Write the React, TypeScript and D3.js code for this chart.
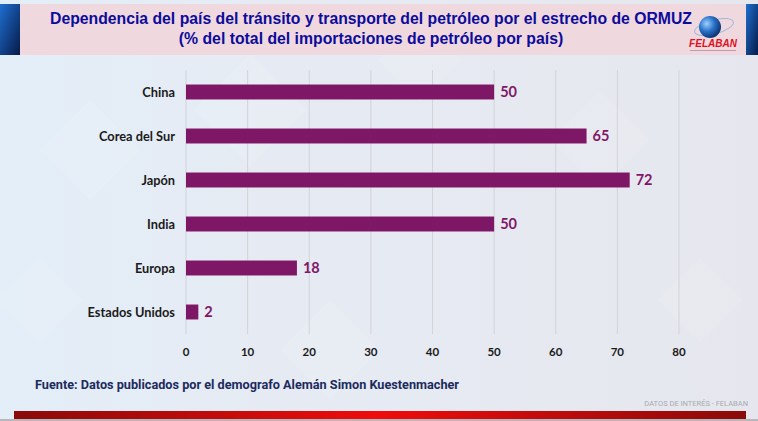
import * as d3 from 'd3';

const countries = ['China', 'Corea del Sur', 'Japón', 'India', 'Europa', 'Estados Unidos'];
const shares = [50, 65, 72, 50, 18, 2];
const xTicks = [0, 10, 20, 30, 40, 50, 60, 70, 80];

const W = 758;
const H = 421;
const BAR = '#7f1767';

export default function App() {
  const margin = { top: 70, left: 186, right: 79, bottom: 87 };
  const x = d3.scaleLinear().domain([0, 80]).range([margin.left, W - margin.right]);
  const y = d3.scaleBand().domain(countries).range([margin.top, H - margin.bottom]).paddingInner(0.66).paddingOuter(0.33);
  const plotBottom = H - margin.bottom;

  // faint diamond pattern in the backdrop
  const diamonds = [
    [90, 150, 70], [40, 300, 60], [250, 110, 80], [420, 60, 60], [600, 140, 70], [700, 300, 60], [330, 350, 70],
  ];

  return (
    <svg width={W} height={H} style={{ position: 'absolute', left: 0, top: 0 }}>
      <defs>
        <linearGradient id="bg" x1="0" x2="1" y1="0" y2="0">
          <stop offset="0" stopColor="#e3eef8" />
          <stop offset="0.35" stopColor="#e6ebf3" />
          <stop offset="1" stopColor="#e6e7ee" />
        </linearGradient>
        <linearGradient id="side" x1="0" x2="1" y1="0" y2="1">
          <stop offset="0" stopColor="#1e6fd0" />
          <stop offset="1" stopColor="#061a48" />
        </linearGradient>
        <linearGradient id="red" x1="0" x2="1" y1="0" y2="0">
          <stop offset="0" stopColor="#8a0a0a" />
          <stop offset="0.5" stopColor="#f00c0c" />
          <stop offset="1" stopColor="#8a0a0a" />
        </linearGradient>
        <radialGradient id="globe" cx="0.35" cy="0.35" r="0.7">
          <stop offset="0" stopColor="#9fd0ff" />
          <stop offset="0.5" stopColor="#2a72c8" />
          <stop offset="1" stopColor="#0b2f6e" />
        </radialGradient>
      </defs>

      <rect width={W} height={H} fill="url(#bg)" />
      {diamonds.map(([cx, cy, s], i) => (
        <rect key={i} x={cx - s / 2} y={cy - s / 2} width={s} height={s}
          transform={`rotate(45 ${cx} ${cy})`} fill="#ffffff" opacity={0.1} />
      ))}

      {/* header band */}
      <rect x={20} y={4} width={726} height={51} fill="#f0d8df" />
      <rect x={0} y={4} width={20} height={51} fill="url(#side)" />
      <rect x={746} y={4} width={12} height={51} fill="url(#side)" />
      <g fontFamily="'Liberation Sans', Arial, sans-serif" fontWeight="bold" fontSize={15.8} fill="#0c0c9c" textAnchor="middle">
        <text x={371} y={24} textLength={642} lengthAdjust="spacingAndGlyphs">Dependencia del país del tránsito y transporte del petróleo por el estrecho de ORMUZ</text>
        <text x={371} y={44}>(% del total del importaciones de petróleo por país)</text>
      </g>

      {/* logo */}
      <g>
        <ellipse cx={714} cy={27} rx={20} ry={7} fill="none" stroke="#9fb8d8" strokeWidth={1} transform="rotate(-15 714 27)" />
        <circle cx={710} cy={27} r={11} fill="url(#globe)" />
        <text x={713} y={47} textAnchor="middle" fontFamily="'Liberation Sans', Arial, sans-serif" fontWeight="bold" fontStyle="italic" fontSize={10} fill="#e01020">FELABAN</text>
        <rect x={690} y={50} width={46} height={1} fill="#c89aa6" />
      </g>

      {/* gridlines */}
      {xTicks.map(t => (
        <line key={t} x1={x(t)} x2={x(t)} y1={margin.top} y2={plotBottom} stroke="#d3d3d8" strokeWidth={1} />
      ))}

      {/* bars */}
      {countries.map((c, i) => (
        <rect key={c} x={x(0)} y={y(c)} width={x(shares[i]) - x(0)} height={y.bandwidth()} fill={BAR} />
      ))}

      {/* value labels */}
      <g fontFamily="Lato, 'Open Sans', sans-serif" fontWeight="bold" fontSize={14.5} fill={BAR}>
        {countries.map((c, i) => (
          <text key={c} x={x(shares[i]) + 6} y={(y(c) ?? 0) + y.bandwidth() / 2} dy="0.36em">{shares[i]}</text>
        ))}
      </g>

      {/* category labels */}
      <g fontFamily="Lato, 'Open Sans', sans-serif" fontWeight="bold" fontSize={12.8} fill="#1a1a1a" textAnchor="end">
        {countries.map(c => (
          <text key={c} x={175} y={(y(c) ?? 0) + y.bandwidth() / 2} dy="0.36em">{c}</text>
        ))}
      </g>

      {/* x tick labels */}
      <g fontFamily="Lato, 'Open Sans', sans-serif" fontWeight="bold" fontSize={11.5} fill="#1a1a1a" textAnchor="middle">
        {xTicks.map(t => (
          <text key={t} x={x(t)} y={356}>{t}</text>
        ))}
      </g>

      {/* footer */}
      <text x={35} y={389} fontFamily="Roboto, sans-serif" fontWeight="bold" fontSize={13} fill="#1c2a5e"
        textLength={424} lengthAdjust="spacingAndGlyphs">Fuente: Datos publicados por el demografo Alemán Simon Kuestenmacher</text>
      <text x={748} y={406} textAnchor="end" fontFamily="Roboto, sans-serif" fontSize={7.5} fill="#a9a9b0">DATOS DE INTERÉS - FELABAN</text>
      <rect x={14} y={411} width={732} height={8} fill="url(#red)" />
      <rect x={0} y={419} width={W} height={2} fill="#b8b8bc" />
    </svg>
  );
}
